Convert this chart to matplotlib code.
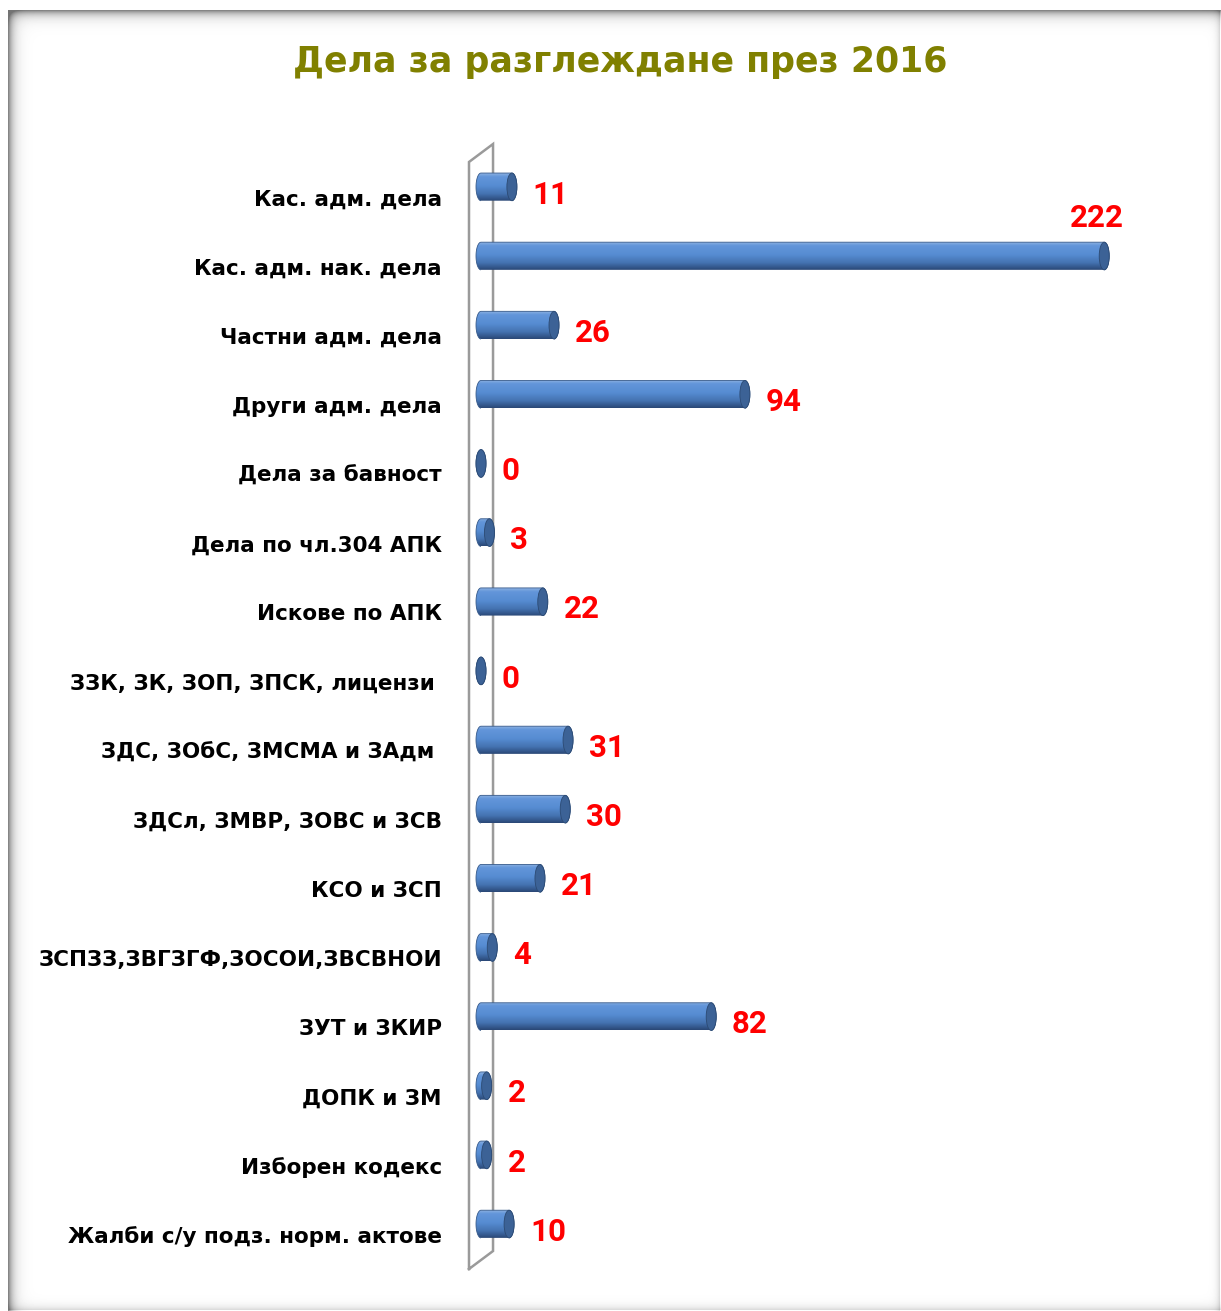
import numpy as np
import matplotlib.pyplot as plt
from matplotlib.colors import LinearSegmentedColormap
from matplotlib.patches import PathPatch, Ellipse
from matplotlib.path import Path
from matplotlib.transforms import offset_copy

# Данни
title = "Дела за разглеждане през 2016"
categories = [
    "Кас. адм. дела",
    "Кас. адм. нак. дела",
    "Частни адм. дела",
    "Други адм. дела",
    "Дела за бавност",
    "Дела по чл.304 АПК",
    "Искове по АПК",
    "ЗЗК, ЗК, ЗОП, ЗПСК, лицензи ",
    "ЗДС, ЗОбС, ЗМСМА и ЗАдм ",
    "ЗДСл, ЗМВР, ЗОВС и ЗСВ",
    "КСО и ЗСП",
    "ЗСПЗЗ,ЗВГЗГФ,ЗОСОИ,ЗВСВНОИ",
    "ЗУТ и ЗКИР",
    "ДОПК и ЗМ",
    "Изборен кодекс",
    "Жалби с/у подз. норм. актове",
]
values = [11, 222, 26, 94, 0, 3, 22, 0, 31, 30, 21, 4, 82, 2, 2, 10]

W, H, DPI = 1221, 1311, 100
plt.rcParams['font.family'] = ['DejaVu Sans']

fig = plt.figure(figsize=(W / DPI, H / DPI), dpi=DPI)

# рамка със сянка (фон)
bg = fig.add_axes([0, 0, 1, 1])
bg.axis('off')
yy, xx = np.mgrid[0:H, 0:W].astype(float)
inside = (xx >= 8) & (yy >= 10)
dark = np.zeros((H, W))
dark += np.where(inside, 0.48 * np.exp(-(yy - 10) / 5.0), 0)
dark += np.where(inside, 0.48 * np.exp(-(xx - 8) / 5.0), 0)
dark += np.where(inside & (xx <= 1219), 0.14 * np.exp(-(1219 - xx) / 3.0), 0)
dark += np.where(inside & (yy <= 1309), 0.14 * np.exp(-(1309 - yy) / 4.0), 0)
shade = 1 - np.clip(dark, 0, 0.55)
bg.imshow(shade, cmap='gray', vmin=0, vmax=1, extent=(0, W, H, 0),
          aspect='auto', interpolation='bilinear')
bg.set_xlim(0, W)
bg.set_ylim(H, 0)

# основна ос
ax_l, ax_r, ax_t, ax_b = 469, 1180, 144, 1269
ax = fig.add_axes([ax_l / W, (H - ax_b) / H, (ax_r - ax_l) / W, (ax_b - ax_t) / H])
ax.patch.set_alpha(0)
ax.axis('off')
n = len(values)
ax.set_xlim(-4.28, 249)
ax.set_ylim(n - 0.35, -0.62)

x0, x1 = ax.get_xlim()
a = 5 * (x1 - x0) / (ax_r - ax_l)   # полуширина на елипсата (5 px)
h = 0.2                              # половин дебелина на цилиндъра

# стена
wall_dy = 0.26
ax.plot([x0, x0, -x0, -x0, x0], [n - 0.35, -0.62 + wall_dy, -0.62, n - 0.35 - wall_dy, n - 0.35],
        color='#9a9a9a', lw=1.8, clip_on=False, zorder=1, solid_joinstyle='miter')

cyl = LinearSegmentedColormap.from_list('cyl', [
    (0.0, '#8cb0e2'), (0.12, '#6396da'), (0.45, '#568cd2'),
    (0.75, '#4472b0'), (1.0, '#2a4876')])
grad = np.linspace(0, 1, 64).reshape(-1, 1)

for i, v in enumerate(values):
    t1 = np.linspace(np.pi / 2, 3 * np.pi / 2, 40)
    t2 = np.linspace(-np.pi / 2, np.pi / 2, 40)
    xs = np.concatenate([a * np.cos(t1), v + a * np.cos(t2)])
    ys = np.concatenate([i + h * np.sin(t1), i + h * np.sin(t2)])
    body = PathPatch(Path(np.column_stack([xs, ys]), closed=False),
                     facecolor='none', edgecolor='#35598a', lw=0.6, zorder=3)
    ax.add_patch(body)
    im = ax.imshow(grad, cmap=cyl, extent=(-a, v + a, i + h, i - h),
                   aspect='auto', origin='upper', zorder=2, interpolation='bilinear')
    im.set_clip_path(body)
    ax.add_patch(Ellipse((v, i), 2 * a, 2 * h, facecolor='#3c6296',
                         edgecolor='#2c4a73', lw=0.6, zorder=4))

    # стойност
    if v == max(values):
        ax.annotate(str(v), (v, i), xytext=(-5, 21), textcoords='offset points',
                    ha='center', va='baseline', color='#ff0000', family='Roboto',
                    fontsize=22.5, fontweight='bold', zorder=5)
    else:
        ax.annotate(str(v), (v, i), xytext=(15, -12), textcoords='offset points',
                    ha='left', va='baseline', color='#ff0000', family='Roboto',
                    fontsize=22.5, fontweight='bold', zorder=5)

ax.set_xlim(x0, x1)
ax.set_ylim(n - 0.35, -0.62)

# категории
lbl_tr = offset_copy(ax.get_yaxis_transform(), fig=fig, x=-27, y=0, units='dots')
for i, c in enumerate(categories):
    ax.text(0, i + 0.27, c, transform=lbl_tr, ha='right', va='baseline',
            fontsize=15.5, fontweight='bold', color='#000000')

fig.text(620 / W, 1 - 72 / H, title, ha='center', va='baseline',
         color='#808000', fontsize=25, fontweight='bold')

fig.savefig('out.png', dpi=DPI)
